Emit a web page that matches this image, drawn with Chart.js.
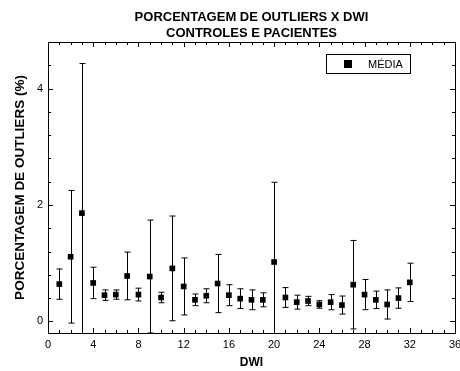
<!DOCTYPE html>
<html>
<head>
<meta charset="utf-8">
<script src="https://cdn.jsdelivr.net/npm/chart.js@4"></script>
<style>
  html, body { margin: 0; padding: 0; background: #fff; }
  #box { width: 460px; height: 371px; }
</style>
</head>
<body>
<div id="box"><canvas id="outliersChart"></canvas></div>
<script>
// dados
const dwi = [1,2,3,4,5,6,7,8,9,10,11,12,13,14,15,16,17,18,19,20,21,22,23,24,25,26,27,28,29,30,31,32];
const media = [0.64,1.11,1.86,0.66,0.45,0.46,0.78,0.46,0.77,0.41,0.91,0.60,0.37,0.44,0.65,0.45,0.39,0.37,0.37,1.02,0.41,0.33,0.35,0.29,0.33,0.28,0.63,0.46,0.37,0.29,0.40,0.67];
const desvio = [0.26,1.14,2.57,0.27,0.09,0.08,0.41,0.11,0.97,0.09,0.90,0.49,0.10,0.12,0.50,0.18,0.17,0.17,0.12,1.37,0.17,0.12,0.08,0.065,0.13,0.155,0.76,0.26,0.15,0.25,0.175,0.33];
const yTicks = [0, 2, 4];
const xTickStep = 4;

const FONT = "'Liberation Sans', Arial, sans-serif";

const errorBars = {
    id: 'errorBars',
    beforeDatasetsDraw(chart) {
        const ctx = chart.ctx;
        const x = chart.scales.x, y = chart.scales.y;
        const area = chart.chartArea;
        ctx.save();
        ctx.beginPath();
        ctx.rect(area.left, area.top, area.right - area.left, area.bottom - area.top);
        ctx.clip();
        ctx.strokeStyle = '#000';
        ctx.lineWidth = 1;
        dwi.forEach(function(d, i) {
            const px = Math.round(x.getPixelForValue(d)) + 0.5;
            const top = y.getPixelForValue(media[i] + desvio[i]);
            const bot = y.getPixelForValue(media[i] - desvio[i]);
            ctx.beginPath();
            ctx.moveTo(px, top);
            ctx.lineTo(px, bot);
            ctx.moveTo(px - 3, top);
            ctx.lineTo(px + 3, top);
            ctx.moveTo(px - 3, bot);
            ctx.lineTo(px + 3, bot);
            ctx.stroke();
        });
        ctx.restore();
    }
};

// moldura com ticks para dentro, como no Origin
const frame = {
    id: 'frame',
    afterDraw(chart) {
        const ctx = chart.ctx;
        const x = chart.scales.x, y = chart.scales.y;
        const a = chart.chartArea;
        ctx.save();
        ctx.strokeStyle = '#000';
        ctx.lineWidth = 1;
        ctx.strokeRect(Math.round(a.left) + 0.5, Math.round(a.top) + 0.5,
            Math.round(a.right - a.left), Math.round(a.bottom - a.top));
        ctx.beginPath();
        for (let v = x.min; v <= x.max; v += 1) {
            const px = Math.round(x.getPixelForValue(v)) + 0.5;
            const len = v % xTickStep === 0 ? 5 : 3;
            ctx.moveTo(px, a.bottom);
            ctx.lineTo(px, a.bottom - len);
            ctx.moveTo(px, a.top);
            ctx.lineTo(px, a.top + len);
        }
        for (let k = 0; k <= 12; k++) {
            const v = k * 0.4;
            if (v > y.max + 1e-6) break;
            const py = Math.round(y.getPixelForValue(v)) + 0.5;
            const len = k % 5 === 0 ? 5 : 3;
            ctx.moveTo(a.left, py);
            ctx.lineTo(a.left + len, py);
            ctx.moveTo(a.right, py);
            ctx.lineTo(a.right - len, py);
        }
        ctx.stroke();
        ctx.restore();
    }
};

// legenda dentro da area do grafico
const legendBox = {
    id: 'legendBox',
    afterDraw(chart) {
        const ctx = chart.ctx;
        const a = chart.chartArea;
        const bx = a.right - 129, by = a.top + 12, bw = 84, bh = 19;
        ctx.save();
        ctx.fillStyle = '#fff';
        ctx.fillRect(bx, by, bw, bh);
        ctx.strokeStyle = '#000';
        ctx.lineWidth = 1;
        ctx.strokeRect(Math.round(bx) + 0.5, Math.round(by) + 0.5, bw, bh);
        ctx.fillStyle = '#000';
        ctx.fillRect(bx + 18, by + 6, 8, 8);
        ctx.font = '11px ' + FONT;
        ctx.textBaseline = 'middle';
        ctx.fillText(chart.data.datasets[0].label, bx + 42, by + bh / 2 + 1);
        ctx.restore();
    }
};

new Chart(document.getElementById('outliersChart'), {
    type: 'scatter',
    data: {
        datasets: [{
            label: 'MÉDIA',
            data: dwi.map(function(d, i) { return { x: d, y: media[i] }; }),
            pointStyle: 'rect',
            pointRadius: 4,
            pointHoverRadius: 4,
            backgroundColor: '#000',
            borderColor: '#000',
            borderWidth: 0
        }]
    },
    options: {
        responsive: true,
        maintainAspectRatio: false,
        animation: false,
        layout: { padding: { right: 5, left: 0, top: 0, bottom: 0 } },
        plugins: {
            legend: { display: false },
            tooltip: { enabled: false },
            title: {
                display: true,
                fullSize: false,
                text: ['PORCENTAGEM DE OUTLIERS X DWI', 'CONTROLES E PACIENTES'],
                color: '#000',
                font: { family: FONT, size: 13, weight: 'bold', lineHeight: '16.5px' },
                padding: { top: 9, bottom: 0 }
            }
        },
        scales: {
            x: {
                type: 'linear',
                min: 0,
                max: 36,
                ticks: { stepSize: xTickStep, color: '#000', font: { family: FONT, size: 11 }, padding: 5, maxRotation: 0 },
                grid: { display: false, drawTicks: false },
                border: { display: false },
                title: {
                    display: true,
                    text: 'DWI',
                    color: '#000',
                    font: { family: FONT, size: 12, weight: 'bold' },
                    padding: { top: 0, bottom: 1 }
                },
                afterFit: function(scale) {
                    scale.height = 38;
                    scale.paddingLeft = 0;
                    scale.paddingRight = 0;
                }
            },
            y: {
                min: -0.2,
                max: 4.8,
                afterBuildTicks: function(scale) {
                    scale.ticks = yTicks.map(function(v) { return { value: v }; });
                },
                ticks: { color: '#000', font: { family: FONT, size: 11 }, padding: 5 },
                grid: { display: false, drawTicks: false },
                border: { display: false },
                title: {
                    display: true,
                    text: 'PORCENTAGEM DE OUTLIERS (%)',
                    color: '#000',
                    font: { family: FONT, size: 13.5, weight: 'bold' },
                    padding: { top: 12, bottom: 0 }
                },
                afterFit: function(scale) {
                    scale.width = 48;
                    scale.paddingTop = 0;
                    scale.paddingBottom = 0;
                }
            }
        }
    },
    plugins: [errorBars, frame, legendBox]
});
</script>
</body>
</html>
